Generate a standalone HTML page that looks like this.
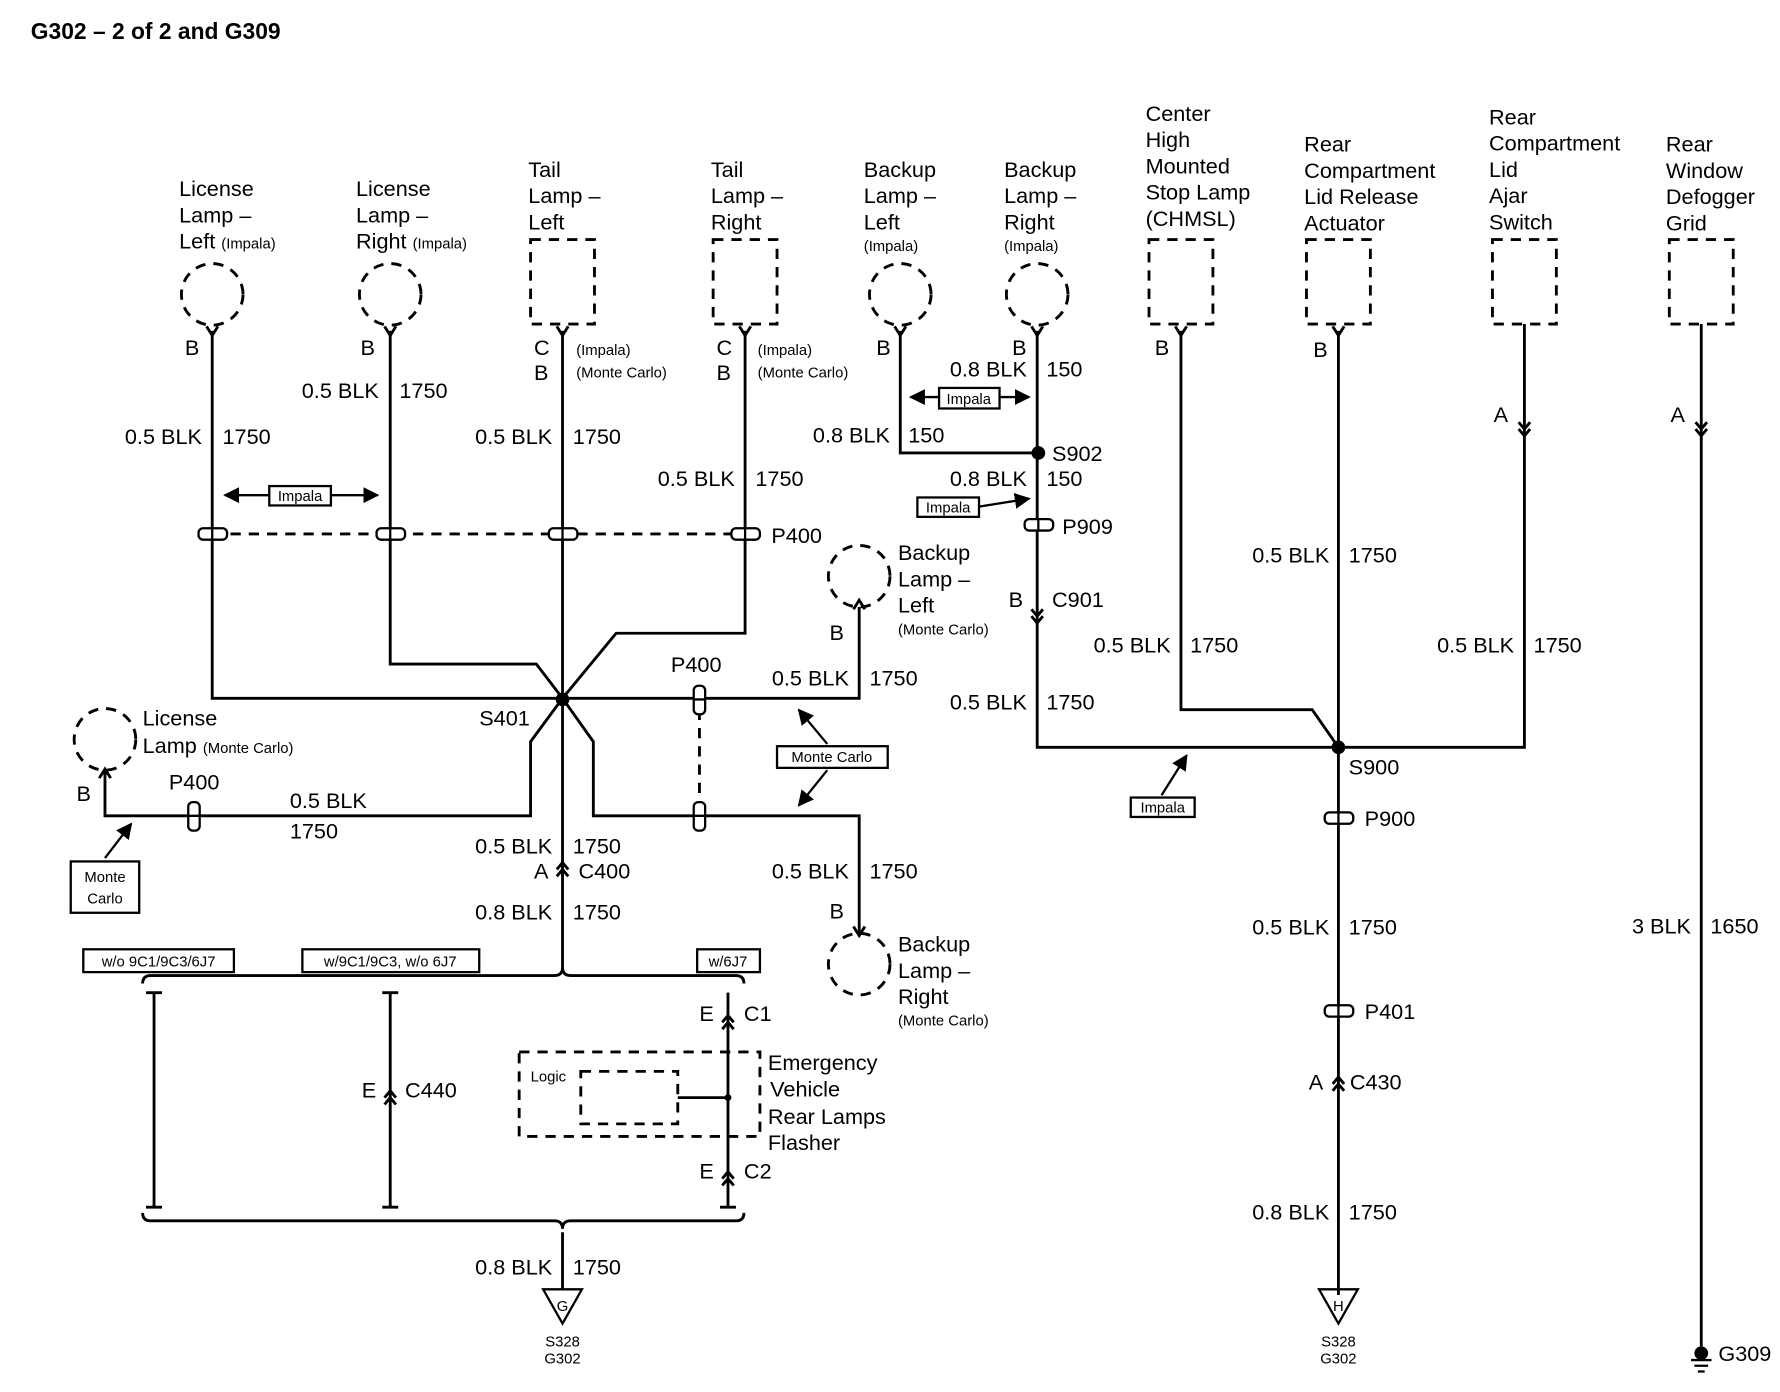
<!DOCTYPE html>
<html><head><meta charset="utf-8"><style>
html,body{margin:0;padding:0;background:#fff}
svg{display:block}
text{font-family:"Liberation Sans",Arial,sans-serif;fill:#000}
.t{font-size:19px}
.s{font-size:13px}
.b{font-weight:bold}
</style></head><body>
<svg width="1780" height="1392" viewBox="0 0 1560 1220" preserveAspectRatio="none" xmlns="http://www.w3.org/2000/svg">
<defs>
<marker id="ah" viewBox="0 0 10 10" refX="9" refY="5" markerWidth="7" markerHeight="7" orient="auto-start-reverse"><path d="M0,0 L10,5 L0,10 z" fill="#000"/></marker>
</defs>
<text x="27" y="34" class="b" style="font-size:20px">G302 – 2 of 2 and G309</text>

<g fill="none" stroke="#000" stroke-width="2.5">
<!-- dashed lamps -->
<g stroke-dasharray="9,7">
<circle cx="186" cy="258" r="27"/><circle cx="342" cy="258" r="27"/>
<rect x="465" y="210" width="56" height="74"/><rect x="625" y="210" width="56" height="74"/>
<circle cx="789" cy="258" r="27"/><circle cx="909" cy="258" r="27"/>
<rect x="1007" y="210" width="56" height="74"/><rect x="1145" y="210" width="56" height="74"/>
<rect x="1308" y="210" width="56" height="74"/><rect x="1463" y="210" width="56" height="74"/>
<circle cx="753" cy="505" r="27"/><circle cx="753" cy="845" r="27"/><circle cx="92" cy="648" r="27"/>
<rect x="455" y="922" width="211" height="74"/><rect x="509" y="939" width="85" height="46"/>
</g>
<!-- wires -->
<path d="M186,290 V612 H493"/>
<path d="M342,290 V582 H470 L493,612"/>
<path d="M493,290 V850"/>
<path d="M653,290 V555 H540 L493,612"/>
<path d="M789,290 V397 H910"/>
<path d="M909,290 V655 H1173"/>
<path d="M1035,290 V622 H1150 L1173,655"/>
<path d="M1173,290 V1135"/>
<path d="M1336,284 V655 H1173"/>
<path d="M1491,284 V1180"/>
<path d="M493,612 H753 V532"/>
<path d="M493,612 L520,650 V715 H753 V818"/>
<path d="M493,612 L465,650 V715 H92 V676"/>
<path d="M493,1080 V1130"/>
<!-- brackets -->
<path d="M125,862 Q125,855 132,855 H486 Q493,855 493,848 Q493,855 500,855 H645 Q652,855 652,862"/>
<path d="M125,1063 Q125,1070 132,1070 H486 Q493,1070 493,1077 Q493,1070 500,1070 H645 Q652,1070 652,1063"/>
<path d="M135,870 V1058 M128,870 H142 M128,1058 H142"/>
<path d="M342,870 V1058 M335,870 H349 M335,1058 H349"/>
<path d="M638,870 V1058 M631,1058 H645"/>
<path d="M594,962 H638"/>
<!-- dashed connector lines -->
<path d="M186,468 H653" stroke-dasharray="9,7"/>
<path d="M613,622 V706" stroke-dasharray="9,7"/>
<!-- lamp forks -->
<path d="M181,286 L186,294 L191,286 M337,286 L342,294 L347,286 M488,286 L493,294 L498,286 M648,286 L653,294 L658,286 M784,286 L789,294 L794,286 M904,286 L909,294 L914,286 M1030,286 L1035,294 L1040,286 M1168,286 L1173,294 L1178,286 M748,534 L753,526 L758,534 M748,812 L753,820 L758,812 M87,682 L92,674 L97,682"/>
<!-- chevron connectors -->
<path d="M904,534 L909,540 L914,534 M904,540 L909,546 L914,540"/>
<path d="M1331,370 L1336,376 L1341,370 M1331,376 L1336,382 L1341,376"/>
<path d="M1486,370 L1491,376 L1496,370 M1486,376 L1491,382 L1496,376"/>
<path d="M488,762 L493,756 L498,762 M488,768 L493,762 L498,768"/>
<path d="M1168,950 L1173,944 L1178,950 M1168,956 L1173,950 L1178,956"/>
<path d="M337,962 L342,956 L347,962 M337,968 L342,962 L347,968"/>
<path d="M633,896 L638,890 L643,896 M633,902 L638,896 L643,902"/>
<path d="M633,1033 L638,1027 L643,1033 M633,1039 L638,1033 L643,1039"/>
<!-- arrows -->
<path d="M197,434 H331" marker-start="url(#ah)" marker-end="url(#ah)" stroke-width="2"/>
<path d="M798,348 H902" marker-start="url(#ah)" marker-end="url(#ah)" stroke-width="2"/>
<path d="M858,444 L902,437" marker-end="url(#ah)" stroke-width="2"/>
<path d="M1018,697 L1040,662" marker-end="url(#ah)" stroke-width="2"/>
<path d="M725,652 L700,622" marker-end="url(#ah)" stroke-width="2"/>
<path d="M725,675 L700,706" marker-end="url(#ah)" stroke-width="2"/>
<path d="M92,752 L115,722" marker-end="url(#ah)" stroke-width="2"/>
<!-- grounds -->
<path d="M476,1130 H510 L493,1160 Z" stroke-width="2"/>
<path d="M1156,1130 H1190 L1173,1160 Z" stroke-width="2"/>
<path d="M1482,1192 H1500 M1485,1197 H1497 M1488,1202 H1494" stroke-width="2"/>
</g>
<circle cx="1491" cy="1186" r="6"/>
<circle cx="493" cy="613" r="6"/><circle cx="910" cy="397" r="6"/><circle cx="1173" cy="655" r="6"/>
<circle cx="638" cy="962" r="3"/>
<text x="493" y="1149" text-anchor="middle" style="font-size:13px">G</text>
<text x="1173" y="1149" text-anchor="middle" style="font-size:13px">H</text>

<!-- P connectors horizontal-wire -->
<g fill="#fff" stroke="#000" stroke-width="2">
<rect x="174" y="463" width="25" height="10" rx="4"/><rect x="330" y="463" width="25" height="10" rx="4"/>
<rect x="481" y="463" width="25" height="10" rx="4"/><rect x="641" y="463" width="25" height="10" rx="4"/>
<rect x="898" y="455" width="25" height="10" rx="4"/>
<rect x="1161" y="712" width="25" height="10" rx="4"/><rect x="1161" y="881" width="25" height="10" rx="4"/>
<rect x="608" y="601" width="10" height="25" rx="4"/><rect x="608" y="703" width="10" height="25" rx="4"/>
<rect x="165" y="703" width="10" height="25" rx="4"/>
</g>
<g stroke="#000" stroke-width="2">
<path d="M186,473 V463 M342,473 V463 M493,473 V463 M653,473 V463 M910,465 V455 M1173,722 V712 M1173,891 V881 M608,613 H618 M608,715 H618 M165,715 H175"/>
</g>

<!-- boxed labels -->
<g fill="#fff" stroke="#000" stroke-width="2">
<rect x="236" y="426" width="54" height="17"/><rect x="823" y="340" width="53" height="18"/>
<rect x="804" y="436" width="54" height="17"/><rect x="991" y="699" width="56" height="17"/>
<rect x="681" y="654" width="97" height="19"/><rect x="62" y="755" width="60" height="45"/>
<rect x="73" y="832" width="132" height="20"/><rect x="265" y="832" width="155" height="20"/><rect x="611" y="832" width="55" height="20"/>
</g>
<g class="s">
<text x="263" y="439" text-anchor="middle">Impala</text>
<text x="849" y="354" text-anchor="middle">Impala</text>
<text x="831" y="449" text-anchor="middle">Impala</text>
<text x="1019" y="712" text-anchor="middle">Impala</text>
<text x="729" y="668" text-anchor="middle">Monte Carlo</text>
<text x="92" y="773" text-anchor="middle">Monte</text>
<text x="92" y="792" text-anchor="middle">Carlo</text>
<text x="139" y="847" text-anchor="middle">w/o 9C1/9C3/6J7</text>
<text x="342" y="847" text-anchor="middle">w/9C1/9C3, w/o 6J7</text>
<text x="638" y="847" text-anchor="middle">w/6J7</text>
<text x="465" y="948">Logic</text>
<text x="493" y="1180" text-anchor="middle">S328</text><text x="493" y="1195" text-anchor="middle">G302</text>
<text x="1173" y="1180" text-anchor="middle">S328</text><text x="1173" y="1195" text-anchor="middle">G302</text>
<text x="505" y="311">(Impala)</text><text x="505" y="331">(Monte Carlo)</text>
<text x="664" y="311">(Impala)</text><text x="664" y="331">(Monte Carlo)</text>
</g>

<!-- lamp titles -->
<g class="t">
<text x="157" y="172">License</text><text x="157" y="195">Lamp –</text><text x="157" y="218">Left <tspan class="s">(Impala)</tspan></text>
<text x="312" y="172">License</text><text x="312" y="195">Lamp –</text><text x="312" y="218">Right <tspan class="s">(Impala)</tspan></text>
<text x="463" y="155">Tail</text><text x="463" y="178">Lamp –</text><text x="463" y="201">Left</text>
<text x="623" y="155">Tail</text><text x="623" y="178">Lamp –</text><text x="623" y="201">Right</text>
<text x="757" y="155">Backup</text><text x="757" y="178">Lamp –</text><text x="757" y="201">Left</text><text x="757" y="220" class="s">(Impala)</text>
<text x="880" y="155">Backup</text><text x="880" y="178">Lamp –</text><text x="880" y="201">Right</text><text x="880" y="220" class="s">(Impala)</text>
<text x="1004" y="106">Center</text><text x="1004" y="129">High</text><text x="1004" y="152">Mounted</text><text x="1004" y="175">Stop Lamp</text><text x="1004" y="198">(CHMSL)</text>
<text x="1143" y="133">Rear</text><text x="1143" y="156">Compartment</text><text x="1143" y="179">Lid Release</text><text x="1143" y="202">Actuator</text>
<text x="1305" y="109">Rear</text><text x="1305" y="132">Compartment</text><text x="1305" y="155">Lid</text><text x="1305" y="178">Ajar</text><text x="1305" y="201">Switch</text>
<text x="1460" y="133">Rear</text><text x="1460" y="156">Window</text><text x="1460" y="179">Defogger</text><text x="1460" y="202">Grid</text>
<text x="787" y="491">Backup</text><text x="787" y="514">Lamp –</text><text x="787" y="537">Left</text><text x="787" y="556" class="s">(Monte Carlo)</text>
<text x="787" y="834">Backup</text><text x="787" y="857">Lamp –</text><text x="787" y="880">Right</text><text x="787" y="899" class="s">(Monte Carlo)</text>
<text x="125" y="636">License</text><text x="125" y="660">Lamp <tspan class="s">(Monte Carlo)</tspan></text>
<text x="673" y="938">Emergency</text><text x="675" y="961">Vehicle</text><text x="673" y="985">Rear Lamps</text><text x="673" y="1008">Flasher</text>

<!-- pin letters -->
<text x="162" y="311">B</text><text x="316" y="311">B</text><text x="468" y="311">C</text><text x="468" y="333">B</text>
<text x="628" y="311">C</text><text x="628" y="333">B</text><text x="768" y="311">B</text><text x="887" y="311">B</text>
<text x="1012" y="311">B</text><text x="1151" y="313">B</text><text x="1309" y="370">A</text><text x="1464" y="370">A</text>
<text x="727" y="561">B</text><text x="727" y="805">B</text><text x="67" y="702">B</text>
<text x="884" y="532">B</text><text x="922" y="532">C901</text>
<text x="468" y="770">A</text><text x="507" y="770">C400</text>
<text x="1147" y="955">A</text><text x="1183" y="955">C430</text>
<text x="317" y="962">E</text><text x="355" y="962">C440</text>
<text x="613" y="895">E</text><text x="652" y="895">C1</text>
<text x="613" y="1033">E</text><text x="652" y="1033">C2</text>
<text x="420" y="636">S401</text><text x="922" y="404">S902</text><text x="1182" y="679">S900</text>
<text x="931" y="468">P909</text><text x="1196" y="724">P900</text><text x="1196" y="893">P401</text>
<text x="676" y="476">P400</text><text x="588" y="589">P400</text><text x="148" y="692">P400</text>
<text x="1506" y="1193">G309</text>

<!-- wire labels -->
<g text-anchor="end">
<text x="177" y="389">0.5 BLK</text><text x="332" y="349">0.5 BLK</text><text x="484" y="389">0.5 BLK</text><text x="644" y="426">0.5 BLK</text>
<text x="780" y="388">0.8 BLK</text><text x="900" y="330">0.8 BLK</text><text x="900" y="426">0.8 BLK</text><text x="900" y="622">0.5 BLK</text>
<text x="1026" y="572">0.5 BLK</text><text x="1165" y="493">0.5 BLK</text><text x="1327" y="572">0.5 BLK</text><text x="1482" y="818">3 BLK</text>
<text x="1165" y="819">0.5 BLK</text><text x="1165" y="1069">0.8 BLK</text>
<text x="744" y="601">0.5 BLK</text><text x="744" y="770">0.5 BLK</text>
<text x="484" y="748">0.5 BLK</text><text x="484" y="806">0.8 BLK</text><text x="484" y="1117">0.8 BLK</text>
</g>
<text x="195" y="389">1750</text><text x="350" y="349">1750</text><text x="502" y="389">1750</text><text x="662" y="426">1750</text>
<text x="796" y="388">150</text><text x="917" y="330">150</text><text x="917" y="426">150</text><text x="917" y="622">1750</text>
<text x="1043" y="572">1750</text><text x="1182" y="493">1750</text><text x="1344" y="572">1750</text><text x="1499" y="818">1650</text>
<text x="1182" y="819">1750</text><text x="1182" y="1069">1750</text>
<text x="762" y="601">1750</text><text x="762" y="770">1750</text>
<text x="502" y="748">1750</text><text x="502" y="806">1750</text><text x="502" y="1117">1750</text>
<text x="254" y="708">0.5 BLK</text><text x="254" y="735">1750</text>
</g>
</svg>
</body></html>
